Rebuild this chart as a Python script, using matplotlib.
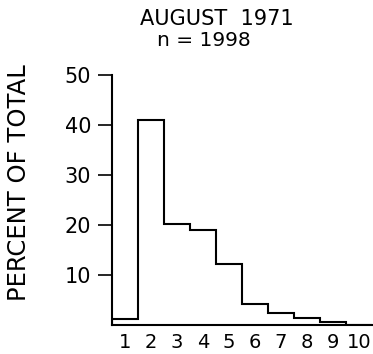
import matplotlib.pyplot as plt
import numpy as np

# size classes and percent of total
classes = [1, 2, 3, 4, 5, 6, 7, 8, 9, 10]
percent = [1.2, 41.0, 20.3, 19.1, 12.1, 4.2, 2.4, 1.3, 0.6, 0.0]
yticks = [10, 20, 30, 40, 50]

plt.rcParams["font.family"] = ["DejaVu Sans"]

fig = plt.figure(figsize=(3.73, 3.54), dpi=100)
ax = fig.add_axes([0.300, 0.082, 0.697, 0.706])

edges = np.arange(len(classes) + 1) + 0.5
ax.stairs(percent, edges, color="black", linewidth=1.5, baseline=0)

ax.set_xlim(0.5, 10.5)
ax.set_ylim(0, 50)
ax.set_yticks(yticks)
ax.set_yticklabels([str(t) for t in yticks], fontsize=15)
ax.set_xticks(classes)
ax.set_xticklabels([str(c) for c in classes], fontsize=14)
ax.tick_params(axis="y", direction="out", length=10, width=1.2, pad=5)
ax.tick_params(axis="x", length=0, pad=6)

for side in ["top", "right"]:
    ax.spines[side].set_visible(False)
ax.spines["left"].set_linewidth(1.5)
ax.spines["bottom"].set_linewidth(1.5)

fig.text(0.052, 0.485, "PERCENT OF TOTAL", rotation=90, ha="center", va="center",
         fontsize=17.5)
fig.text(0.58, 0.945, "AUGUST  1971", ha="center", va="center", fontsize=15)
fig.text(0.547, 0.885, "n = 1998", ha="center", va="center", fontsize=14.5)

fig.savefig("out.png", dpi=100)
